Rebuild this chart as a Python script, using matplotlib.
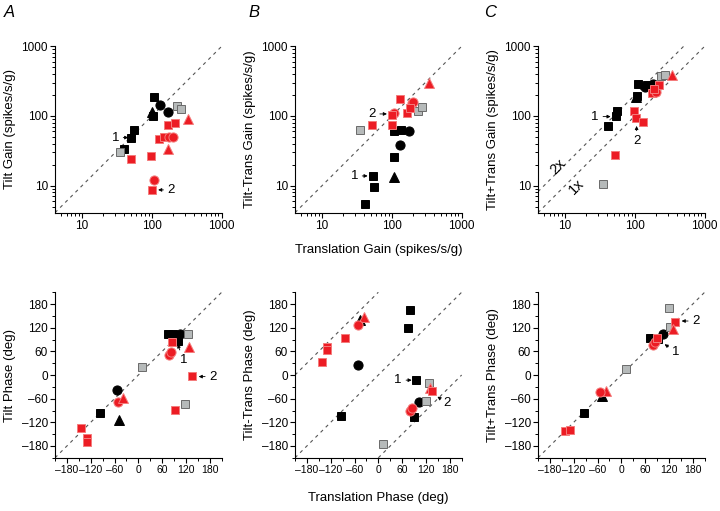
import matplotlib
matplotlib.use('Agg')
import matplotlib.pyplot as plt
from matplotlib.ticker import NullFormatter, MultipleLocator

plt.rcParams['font.family'] = ['Liberation Sans', 'DejaVu Sans']

# kind code: first letter = group (K black, G gray, R red), second = marker
# ---- top row: gains (spikes/s/g)
tilt_gain_x = [106, 129, 100, 103, 169, 55, 51, 40,
               35, 228, 261,
               325, 168, 216, 127, 150, 175, 200, 168, 97, 50, 106, 100]
tilt_gain_y = [190, 144, 115, 100, 113, 63, 49, 34,
               30, 141, 127,
               90, 75, 79, 47, 50, 50, 50, 34, 27, 24, 12, 8.7]
tilt_gain_kind = ['Ks', 'Ko', 'K^', 'Ks', 'Ko', 'Ks', 'Ks', 'Ks',
                  'Gs', 'Gs', 'Gs',
                  'R^', 'Rs', 'Rs', 'Rs', 'Rs', 'Ro', 'Ro', 'R^', 'Rs', 'Rs', 'Ro', 'Rs']

diff_gain_x = [108, 136, 174, 132, 108, 106, 53, 56, 41,
               35, 236, 269,
               336, 132, 194, 204, 109, 100, 164, 183, 52, 100]
diff_gain_y = [60, 62, 60, 38, 25.5, 13.5, 13.8, 9.7, 5.4,
               63, 118, 136,
               301, 173, 152, 161, 112, 103, 109, 130, 74, 74]
diff_gain_kind = ['Ks', 'Ks', 'Ko', 'Ko', 'Ks', 'K^', 'Ks', 'Ks', 'Ks',
                  'Gs', 'Gs', 'Gs',
                  'R^', 'Rs', 'Ro', 'Ro', 'Ro', 'Rs', 'Rs', 'Rs', 'Rs', 'Rs']

sum_gain_x = [41, 53, 56, 104, 106, 112, 139, 180, 150,
              236, 269, 35,
              336, 174, 200, 224, 190, 98, 103, 132, 52]
sum_gain_y = [73, 100, 118, 185, 194, 285, 264, 285, 275,
              375, 388, 10.6,
              388, 211, 223, 279, 240, 119, 93, 83, 27.6]
sum_gain_kind = ['Ks', 'Ks', 'Ks', 'K^', 'Ks', 'Ks', 'Ko', 'Ko', 'Ks',
                 'Gs', 'Gs', 'Gs',
                 'R^', 'Rs', 'Ro', 'Rs', 'Rs', 'Rs', 'Rs', 'Rs', 'Rs']

# ---- bottom row: phases (deg)
tilt_phase_x = [75, 88, 104, 100, -55, -97, -49,
                10, 125, 117,
                84, 78, 82, 127, 136, 93, -51, -38, -145, -130, -130]
tilt_phase_y = [104, 104, 103, 86, -38, -96, -114,
                21, 104, -74,
                84, 51, 58, 71, -3, -89, -68, -59, -135, -159, -169]
tilt_phase_kind = ['Ks', 'Ks', 'Ko', 'Ks', 'Ko', 'Ks', 'K^',
                   'Gs', 'Gs', 'Gs',
                   'Rs', 'Ro', 'Ro', 'R^', 'Rs', 'Rs', 'Ro', 'R^', 'Rs', 'Rs', 'Rs']

diff_phase_x = [-45, -52, 81, 74, 96, 103, 89, -95,
                127, 120, 12,
                -36, -51, -84, -130, -129, -143, 130, 136, 81, 86]
diff_phase_y = [139, 25, 165, 120, -13, -68, -107, -104,
                -21, -66, -174,
                148, 128, 95, 72, 63, 32, -34, -41, -91, -83]
diff_phase_kind = ['K^', 'Ko', 'Ks', 'Ks', 'Ks', 'Ko', 'Ks', 'Ks',
                   'Gs', 'Gs', 'Gs',
                   'R^', 'Ro', 'Rs', 'Rs', 'Rs', 'Rs', 'R^', 'Rs', 'Ro', 'Ro']

sum_phase_x = [105, 71, 92, -48, -95,
               120, 123, 13,
               136, 130, 79, 84, 89, -38, -53, -143, -130]
sum_phase_y = [103, 95, 92, -52, -96,
               169, 122, 15,
               134, 118, 76, 85, 93, -41, -44, -141, -140]
sum_phase_kind = ['Ko', 'Ks', 'Ks', 'K^', 'Ks',
                  'Gs', 'Gs', 'Gs',
                  'Rs', 'R^', 'Ro', 'Ro', 'Rs', 'R^', 'Ro', 'Rs', 'Rs']

phase_ticks = [-180, -120, -60, 0, 60, 120, 180]
phase_labels = ['\u2013180', '\u2013120', '\u201360', '0', '60', '120', '180']

COLORS = {'K': ('black', 'black'), 'G': ('#b6baba', '#6a6a6a'), 'R': ('#ec1c24', '#f47c7c')}
SIZES = {'s': 5.8, 'o': 6.6, '^': 7.0}
DASH = dict(ls=(0, (3, 3.5)), color='#555555', lw=0.8, zorder=1)


def draw_points(ax, xs, ys, kinds):
    for grp in 'KGR':
        for x, y, k in zip(xs, ys, kinds):
            if k[0] != grp:
                continue
            fc, ec = COLORS[grp]
            ax.plot(x, y, marker=k[1], ms=SIZES[k[1]], ls='none',
                    mfc=fc, mec=ec, mew=0.7, zorder=3)


def style_axes(ax):
    for s in ['top', 'right']:
        ax.spines[s].set_visible(False)
    ax.tick_params(which='both', direction='out', labelsize=8.5, pad=1.5)
    ax.tick_params(which='major', length=3.6, width=0.8)
    ax.tick_params(which='minor', length=2.2, width=0.7)


def gain_axes(ax):
    ax.set_xscale('log')
    ax.set_yscale('log')
    ax.set_xlim(4.1, 1000)
    ax.set_ylim(4.1, 1000)
    ax.set_xticks([10, 100, 1000])
    ax.set_xticklabels(['10', '100', '1000'])
    ax.set_yticks([10, 100, 1000])
    ax.set_yticklabels(['10', '100', '1000'])
    ax.xaxis.set_minor_formatter(NullFormatter())
    ax.yaxis.set_minor_formatter(NullFormatter())
    style_axes(ax)
    ax.plot([4.1, 1000], [4.1, 1000], **DASH)


def phase_axes(ax):
    ax.set_xlim(-210, 210)
    ax.set_ylim(-210, 210)
    ax.set_xticks(phase_ticks)
    ax.set_xticklabels(phase_labels)
    ax.set_yticks(phase_ticks)
    ax.set_yticklabels(phase_labels)
    ax.xaxis.set_minor_locator(MultipleLocator(30))
    ax.yaxis.set_minor_locator(MultipleLocator(30))
    style_axes(ax)
    ax.tick_params(axis='x', labelsize=7.5)
    ax.plot([-210, 210], [-210, 210], **DASH)


def note(ax, text, tip, where):
    ax.annotate(text, xy=tip, xytext=where, fontsize=9.5, ha='center', va='center',
                arrowprops=dict(arrowstyle='-|>', color='black', lw=0.6,
                                mutation_scale=5, shrinkA=1, shrinkB=0))


fig = plt.figure(figsize=(7.2, 5.11), dpi=100)
lefts = [0.0764, 0.4097, 0.7472]
w, h = 0.2315, 0.3256
axA = fig.add_axes([lefts[0], 0.5838, w, h])
axB = fig.add_axes([lefts[1], 0.5838, w, h])
axC = fig.add_axes([lefts[2], 0.5838, w, h])
axD = fig.add_axes([lefts[0], 0.1041, w, 0.324])
axE = fig.add_axes([lefts[1], 0.1041, w, 0.324])
axF = fig.add_axes([lefts[2], 0.1041, w, 0.324])

lab = dict(fontsize=9.5, labelpad=4)

# A top
gain_axes(axA)
draw_points(axA, tilt_gain_x, tilt_gain_y, tilt_gain_kind)
axA.set_ylabel('Tilt Gain (spikes/s/g)', **lab)
note(axA, '1', (46, 49), (30, 49))
note(axA, '2', (123, 8.7), (190, 8.7))

# B top
gain_axes(axB)
draw_points(axB, diff_gain_x, diff_gain_y, diff_gain_kind)
axB.set_ylabel('Tilt-Trans Gain (spikes/s/g)', **lab)
axB.set_xlabel('Translation Gain (spikes/s/g)', fontsize=9.5, labelpad=9)
note(axB, '2', (85, 107), (52, 107))
note(axB, '1', (45, 13.8), (29, 13.8))

# C top
gain_axes(axC)
axC.plot([4.1, 500], [8.2, 1000], **DASH)
draw_points(axC, sum_gain_x, sum_gain_y, sum_gain_kind)
axC.set_ylabel('Tilt+Trans Gain (spikes/s/g)', **lab)
note(axC, '1', (45, 98), (27, 98))
note(axC, '2', (106, 72), (106, 44))
axC.text(7.9, 19, '2x', fontsize=10.5, rotation=45, ha='center', va='center')
axC.text(14.5, 9.7, '1x', fontsize=10.5, rotation=45, ha='center', va='center')

# A bottom
phase_axes(axD)
draw_points(axD, tilt_phase_x, tilt_phase_y, tilt_phase_kind)
axD.set_ylabel('Tilt Phase (deg)', **lab)
note(axD, '1', (99, 78), (114, 38))
note(axD, '2', (152, -4), (188, -4))

# B bottom
phase_axes(axE)
axE.plot([-210, 0], [0, 210], **DASH)
axE.plot([0, 210], [-210, 0], **DASH)
draw_points(axE, diff_phase_x, diff_phase_y, diff_phase_kind)
axE.set_ylabel('Tilt-Trans Phase (deg)', **lab)
axE.set_xlabel('Translation Phase (deg)', fontsize=9.5, labelpad=12)
note(axE, '1', (84, -13), (50, -13))
note(axE, '2', (149, -55), (173, -72))

# C bottom
phase_axes(axF)
draw_points(axF, sum_phase_x, sum_phase_y, sum_phase_kind)
axF.set_ylabel('Tilt+Trans Phase (deg)', **lab)
note(axF, '2', (152, 137), (188, 137))
note(axF, '1', (109, 78), (138, 59))

for x, letter in [(0.006, 'A'), (0.345, 'B'), (0.672, 'C')]:
    fig.text(x, 0.99, letter, fontsize=12, style='italic', ha='left', va='top')

fig.savefig('out.png', dpi=100)
